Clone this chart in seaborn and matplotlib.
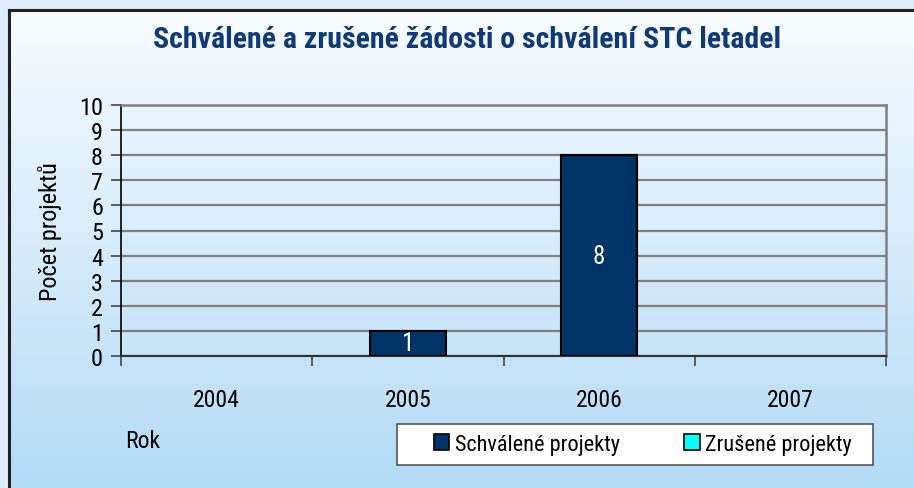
import numpy as np
import pandas as pd
import seaborn as sns
import matplotlib.pyplot as plt
from matplotlib import font_manager
from matplotlib.patches import Rectangle, Patch
from matplotlib.lines import Line2D
from matplotlib.ticker import FixedLocator

# data
roky = ['2004', '2005', '2006', '2007']
schvalene = [0, 1, 8, 0]
zrusene = [0, 0, 0, 0]

df = pd.DataFrame({'Rok': roky, 'Schválené projekty': schvalene, 'Zrušené projekty': zrusene})

# pick a narrow sans font if one is installed
installed = {f.name for f in font_manager.fontManager.ttflist}
narrow = ['Liberation Sans Narrow', 'Arial Narrow', 'Roboto Condensed', 'Archivo Narrow',
          'PT Sans Narrow', 'Fira Sans Condensed', 'Encode Sans Condensed', 'Open Sans Condensed',
          'Asap Condensed', 'Barlow Semi Condensed', 'IBM Plex Sans Condensed']
fam = [f for f in narrow if f in installed][:1] + ['DejaVu Sans']
plt.rcParams['font.family'] = fam

W, H = 914, 489
fig = plt.figure(figsize=(W / 100, H / 100), dpi=100)

# background: light strip outside, gradient inside the frame
bg = fig.add_axes([0, 0, 1, 1], zorder=-10)
img = np.ones((H, W, 3))
img[:, :] = np.array([221, 237, 251]) / 255
top = np.array([248, 252, 255]) / 255
bot = np.array([180, 219, 246]) / 255
t = np.linspace(0, 1, H - 11)[:, None]
img[11:, 9:] = (top * (1 - t) + bot * t)[:, None, :]
bg.imshow(img, extent=[0, W, H, 0], aspect='auto')
bg.set_xlim(0, W)
bg.set_ylim(H, 0)
bg.axis('off')
bg.add_line(Line2D([9, W], [11, 11], color='#222222', lw=2.2))
bg.add_line(Line2D([9, 9], [11, H], color='#222222', lw=2.2))

# legend box
bg.add_patch(Rectangle((397, 425), 476, 41, facecolor='white', edgecolor='#555555', lw=1.2))

ax = fig.add_axes([121 / W, 1 - 357 / H, 765 / W, 251 / H])
ax.patch.set_alpha(0)

sns.barplot(data=df, x='Rok', y='Schválené projekty', ax=ax, width=0.4,
            color='#003366', edgecolor='black', linewidth=1.5, saturation=1, zorder=3)
sns.barplot(data=df, x='Rok', y='Zrušené projekty', ax=ax, width=0.4,
            color='#00ffff', edgecolor='black', linewidth=0, saturation=1, zorder=2)
# no outline on empty bars
for bar, v in zip(ax.containers[0], schvalene):
    if v == 0:
        bar.set_linewidth(0)

labels = ['' if v == 0 else str(v) for v in schvalene]
ax.bar_label(ax.containers[0], labels=labels, label_type='center', color='white', fontsize=18)

ax.set_ylim(0, 10)
ax.set_xlim(-0.5, 3.5)
ax.set_yticks(range(0, 11))
ax.yaxis.grid(True, color='#808080', lw=1.6)
ax.set_axisbelow(True)
ax.tick_params(axis='y', length=7, width=1.2, color='#444444', pad=6, labelsize=17.5)
ax.tick_params(axis='x', which='major', length=0, pad=23, labelsize=17)
ax.xaxis.set_minor_locator(FixedLocator(np.arange(-0.5, 4, 1)))
ax.tick_params(axis='x', which='minor', length=7, width=1.2, color='#444444')

for s in ['top', 'right']:
    ax.spines[s].set_color('#808080')
    ax.spines[s].set_linewidth(1.8)
ax.spines['left'].set_color('black')
ax.spines['left'].set_linewidth(1.2)
ax.spines['bottom'].set_color('#333333')
ax.spines['bottom'].set_linewidth(1.5)

ax.set_xlabel('')
ax.set_ylabel('Počet projektů', fontsize=17.5, labelpad=12)

fig.text(467 / W, 1 - 40 / H, 'Schválené a zrušené žádosti o schválení STC letadel',
         ha='center', va='center', fontsize=21.5, fontweight='bold', color='#0f3a78')
fig.text(125 / W, 1 - 442 / H, 'Rok', ha='left', va='center', fontsize=17)

handles = [Patch(facecolor='#003366', edgecolor='black', lw=1.2),
           Patch(facecolor='#00ffff', edgecolor='black', lw=1.2)]
fig.legend(handles, ['Schválené projekty', 'Zrušené projekty'], ncol=2, frameon=False,
           loc='center', bbox_to_anchor=(643 / W, 1 - 445.5 / H), fontsize=16,
           handlelength=0.7, handleheight=0.7, handletextpad=0.25, columnspacing=2.9)

fig.savefig('out.png', dpi=100)
